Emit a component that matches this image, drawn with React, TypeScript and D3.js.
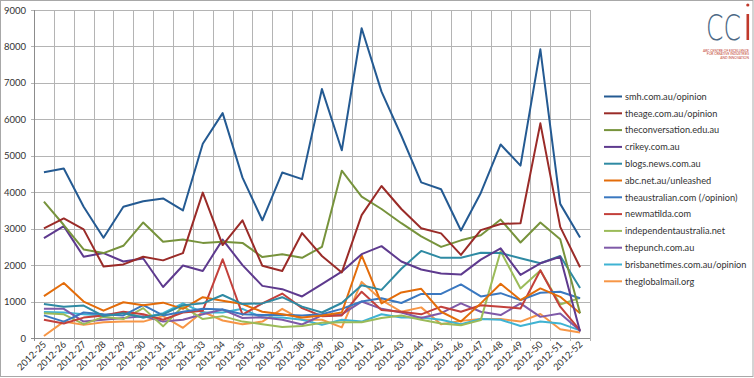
import React from "react";
import * as d3 from "d3";

const categories = [
  "2012-25","2012-26","2012-27","2012-28","2012-29","2012-30","2012-31","2012-32","2012-33","2012-34",
  "2012-35","2012-36","2012-37","2012-38","2012-39","2012-40","2012-41","2012-42","2012-43","2012-44",
  "2012-45","2012-46","2012-47","2012-48","2012-49","2012-50","2012-51","2012-52",
];

const seriesNames = [
  "smh.com.au/opinion",
  "theage.com.au/opinion",
  "theconversation.edu.au",
  "crikey.com.au",
  "blogs.news.com.au",
  "abc.net.au/unleashed",
  "theaustralian.com (/opinion)",
  "newmatilda.com",
  "independentaustralia.net",
  "thepunch.com.au",
  "brisbanetimes.com.au/opinion",
  "theglobalmail.org",
];

const smh = [4550,4650,3600,2750,3600,3750,3830,3500,5330,6170,4400,3230,4540,4360,6830,5150,8500,6760,5550,4270,4080,2950,3980,5310,4730,7920,3680,2760];
const theage = [3010,3280,2980,1960,2020,2230,2130,2330,3990,2550,3230,1980,1840,2880,2250,1800,3370,4170,3540,3010,2870,2280,2960,3130,3150,5890,3050,1940];
const theconversation = [3740,3100,2430,2330,2530,3170,2640,2700,2610,2640,2610,2220,2300,2200,2500,4590,3880,3540,3150,2790,2500,2680,2820,3250,2620,3170,2710,680];
const crikey = [2740,3070,2230,2330,2100,2180,1400,1990,1840,2700,2000,1430,1340,1140,1480,1820,2300,2520,2100,1880,1770,1740,2150,2460,1730,2050,2230,180];
const blogs = [930,860,890,600,680,560,650,900,950,1180,930,950,1120,860,700,960,1450,1320,1900,2390,2200,2200,2340,2330,2190,2050,2250,1370];
const abc = [1150,1510,1000,750,980,900,970,800,1120,1020,930,720,650,560,620,700,2270,950,1250,1350,720,450,950,1490,1040,1360,1130,680];
const theaustralian = [620,450,700,650,620,900,620,720,800,780,650,630,640,620,650,800,1000,1090,960,1210,1210,1470,1140,1230,1040,1240,1270,1090];
const newmatilda = [500,400,560,620,720,650,500,700,750,2160,640,950,1220,820,600,620,1270,770,720,650,860,720,900,860,810,1860,860,210];
const independentaustralia = [680,650,380,580,520,820,320,870,520,600,450,380,300,330,420,430,430,550,620,500,400,350,490,2380,1360,1850,920,1100];
const thepunch = [800,800,450,500,550,600,450,500,650,780,550,570,500,370,620,650,1000,800,700,550,680,950,720,630,950,580,670,200];
const brisbanetimes = [710,700,650,620,700,560,680,950,700,700,800,560,560,500,360,500,450,650,560,560,500,380,520,500,330,450,400,210];
const theglobalmail = [55,450,360,430,450,450,600,280,720,480,380,450,800,500,500,290,1540,1040,720,840,380,470,520,520,450,660,240,150];

const seriesValues = [smh, theage, theconversation, crikey, blogs, abc, theaustralian, newmatilda, independentaustralia, thepunch, brisbanetimes, theglobalmail];
const seriesColors = ["#245a92","#9a2b28","#77933c","#5e3a8e","#2f8aa3","#e36c0a","#3a78c0","#c3403b","#9bbb59","#7f5aa8","#3fb3d3","#f79646"];

const yTicks = [0,1000,2000,3000,4000,5000,6000,7000,8000,9000];
const logoLines = ["ARC CENTRE OF EXCELLENCE", "FOR CREATIVE INDUSTRIES", "AND INNOVATION"];

const W = 754, H = 378;
const plot = { left: 34, right: 590, top: 10, bottom: 338 };
const font = "Lato, 'Open Sans', sans-serif";

export default function App() {
  const x = d3.scaleBand<string>().domain(categories).range([plot.left, plot.right]);
  const y = d3.scaleLinear().domain([0, 9000]).range([plot.bottom, plot.top]);
  const line = d3.line<number>()
    .x((_, i) => (x(categories[i]) as number) + x.bandwidth() / 2)
    .y((d) => y(d));

  const boundaries = categories.map((c) => x(c) as number).concat([plot.right]);

  return (
    <svg width={W} height={H} style={{ position: "absolute", left: 0, top: 0, background: "#fff" }}>
      <rect x={0.5} y={0.5} width={W - 1.5} height={H - 2} fill="#fff" stroke="#a8a8a8" />
      {/* grid */}
      {yTicks.map((t) => (
        <line key={"h" + t} x1={plot.left - 3} x2={plot.right} y1={Math.round(y(t)) + 0.5} y2={Math.round(y(t)) + 0.5}
          stroke={t === 0 ? "#8c8c8c" : "#b4b4b4"} strokeWidth={1} />
      ))}
      {boundaries.map((b, i) => (
        <line key={"v" + i} x1={Math.round(b) + 0.5} x2={Math.round(b) + 0.5} y1={plot.top} y2={plot.bottom + 3}
          stroke={i === 0 ? "#8c8c8c" : "#b4b4b4"} strokeWidth={1} />
      ))}
      {/* y labels */}
      {yTicks.map((t) => (
        <text key={"yl" + t} x={26} y={y(t) + 3.5} textAnchor="end" fontFamily={font} fontSize={9.5} fill="#333">{t}</text>
      ))}
      {/* x labels */}
      {categories.map((c) => {
        const cx = (x(c) as number) + x.bandwidth() / 2 + 3;
        return (
          <text key={"xl" + c} transform={`translate(${cx},${plot.bottom + 7}) rotate(-45)`} textAnchor="end"
            fontFamily={font} fontSize={9.5} fill="#333">{c}</text>
        );
      })}
      {/* lines */}
      {seriesValues.map((vals, i) => (
        <path key={"s" + i} d={line(vals) || ""} fill="none" stroke={seriesColors[i]} strokeWidth={2} strokeLinejoin="round" />
      )).reverse()}
      {/* legend */}
      {seriesNames.map((n, i) => {
        const ly = 96.5 + i * 16.8;
        return (
          <g key={"lg" + i}>
            <line x1={604} x2={622} y1={ly} y2={ly} stroke={seriesColors[i]} strokeWidth={2} />
            <text x={625} y={ly + 3.3} fontFamily={font} fontSize={9.2} fill="#333">{n}</text>
          </g>
        );
      })}
      {/* logo */}
      <text transform="translate(706,39.5) scale(1,1.45)" x={0} y={0} fontFamily="'DejaVu Sans', sans-serif"
        fontWeight={200} fontSize={25} fill="#4d6985">CC</text>
      <rect x={746.5} y={14} width={2.6} height={26} fill="#c0392b" />
      <circle cx={747.8} cy={5} r={1.6} fill="#c0392b" />
      {logoLines.map((t, i) => (
        <text key={"lt" + i} x={749} y={51.5 + i * 3.6} textAnchor="end" fontFamily={font} fontSize={3.3} fill="#c0392b">{t}</text>
      ))}
    </svg>
  );
}
